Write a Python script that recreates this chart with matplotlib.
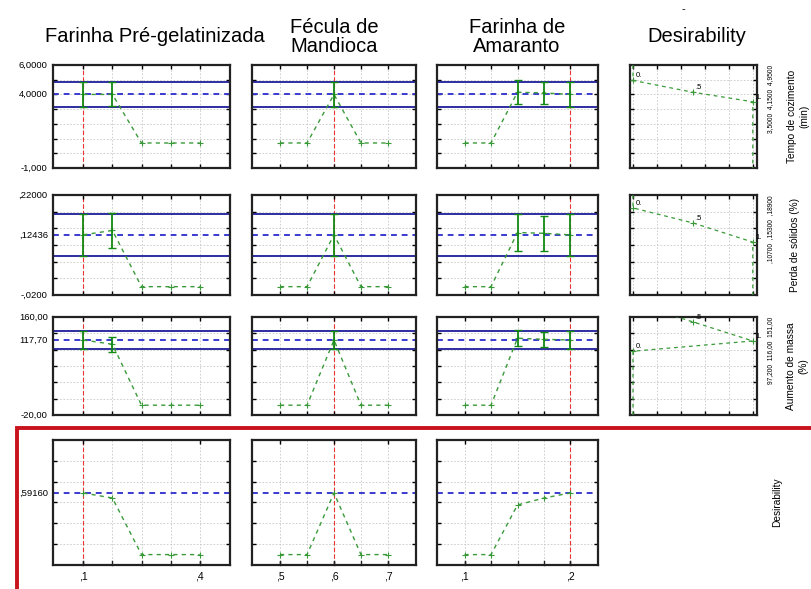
import matplotlib
matplotlib.use("Agg")
import matplotlib.pyplot as plt
from matplotlib.patches import Rectangle

plt.rcParams['font.family'] = ['Liberation Sans', 'DejaVu Sans']

W, H = 811, 589

# factor levels and current settings
levels_pg = [0.1, 0.175, 0.25, 0.325, 0.4]
levels_fm = [0.5, 0.55, 0.6, 0.65, 0.7]
levels_fa = [0.1, 0.125, 0.15, 0.175, 0.2]
current = [0.1, 0.6, 0.2]
factor_names = ["Farinha Pré-gelatinizada", "Fécula de\nMandioca", "Farinha de\nAmaranto"]
xtick_pos = [[0.1, 0.4], [0.5, 0.6, 0.7], [0.1, 0.2]]
xtick_labels = [[",1", ",4"], [",5", ",6", ",7"], [",1", ",2"]]

# response: Tempo de cozimento (min)
tempo_pred = 4.0
tempo_ci = 0.87
tempo_pg = [4.0, 4.0, 0.7, 0.7, 0.7]
tempo_pg_ci = [0.87, 0.82, 0, 0, 0]
tempo_fm = [0.7, 0.7, 4.0, 0.7, 0.7]
tempo_fm_ci = [0, 0, 0.87, 0, 0]
tempo_fa = [0.7, 0.7, 4.15, 4.1, 4.0]
tempo_fa_ci = [0, 0, 0.82, 0.73, 0.87]
tempo_desir_d = [0, 0, 0.5, 1, 1]
tempo_desir_y = [6.0, 4.95, 4.15, 3.5, -1.0]

# response: Perda de sólidos (%)
perda_pred = 0.12436
perda_ci = 0.05
perda_pg = [0.12436, 0.135, 0.0, 0.0, 0.0]
perda_pg_ci = [0.05, 0.042, 0, 0, 0]
perda_fm = [0.0, 0.0, 0.12436, 0.0, 0.0]
perda_fm_ci = [0, 0, 0.05, 0, 0]
perda_fa = [0.0, 0.0, 0.13, 0.128, 0.12436]
perda_fa_ci = [0, 0, 0.045, 0.042, 0.05]
perda_desir_d = [0, 0, 0.5, 1, 1]
perda_desir_y = [0.22, 0.189, 0.153, 0.107, -0.02]

# response: Aumento de massa (%)
massa_pred = 117.70
massa_ci = 16.5
massa_pg = [117.7, 110.0, -2.0, -2.0, -2.0]
massa_pg_ci = [16.5, 14.0, 0, 0, 0]
massa_fm = [-2.0, -2.0, 117.7, -2.0, -2.0]
massa_fm_ci = [0, 0, 16.5, 0, 0]
massa_fa = [-2.0, -2.0, 121.0, 119.0, 117.7]
massa_fa_ci = [0, 0, 15.0, 14.0, 16.5]
massa_desir_d = [0, 0, 1, 0.5, 0]
massa_desir_y = [-20.0, 97.2, 116.0, 151.0, 186.0]

# overall desirability
desir_pred = 0.5916
desir_pg = [0.5916, 0.543, 0.0, 0.0, 0.0]
desir_fm = [0.0, 0.0, 0.5916, 0.0, 0.0]
desir_fa = [0.0, 0.0, 0.476, 0.543, 0.5916]

response_names = ["Tempo de cozimento\n(min)", "Perda de sólidos (%)", "Aumento de massa\n(%)", "Desirability"]
ylims = [(-1.0, 6.0), (-0.02, 0.22), (-20.0, 160.0), (-0.1, 1.1)]
ylabels = [["-1,000", "4,0000", "6,0000"], ["-,0200", ",12436", ",22000"],
           ["-20,00", "117,70", "160,00"], [",59160"]]
ygrid_step = [1.0, 0.04, 30.0, 0.2]
desir_specs = ["3,5000  4,1500  4,9500", ",10700  ,15300  ,18900", "97,200  116,00  151,00"]

levels = [levels_pg, levels_fm, levels_fa]
profiles = [
    [(tempo_pg, tempo_pg_ci), (tempo_fm, tempo_fm_ci), (tempo_fa, tempo_fa_ci)],
    [(perda_pg, perda_pg_ci), (perda_fm, perda_fm_ci), (perda_fa, perda_fa_ci)],
    [(massa_pg, massa_pg_ci), (massa_fm, massa_fm_ci), (massa_fa, massa_fa_ci)],
    [(desir_pg, None), (desir_fm, None), (desir_fa, None)],
]
preds = [tempo_pred, perda_pred, massa_pred, desir_pred]
cis = [tempo_ci, perda_ci, massa_ci, None]
desir_curves = [(tempo_desir_d, tempo_desir_y), (perda_desir_d, perda_desir_y),
                (massa_desir_d, massa_desir_y)]

# panel edges in pixels
col_x = [(53, 230), (252, 416), (437, 598), (630, 757)]
row_y = [(65, 168), (195, 295), (317, 415), (440, 565)]
name_x = [798, 795, 797, 777]

GREEN = "#3a9a3a"
DARK_GREEN = "#138a13"
NAVY = "#1c1c9a"
BLUE = "#3a3ad0"
RED = "#ee3333"


def px_rect(l, t, r, b):
    return [l / W, 1 - b / H, (r - l) / W, (b - t) / H]


def frame(ax, ylim, step, xgrid):
    lo, hi = ylim
    ys = []
    v = lo
    while v <= hi + 1e-9:
        ys.append(v)
        v += step
    for y in ys[1:-1]:
        ax.axhline(y, color="#c8c8c8", lw=0.6, ls=(0, (2, 2)), zorder=0)
    for x in xgrid:
        ax.axvline(x, color="#c8c8c8", lw=0.6, ls=(0, (2, 2)), zorder=0)
    ax.set_xticks(xgrid)
    ax.set_yticks(ys[1:-1])
    ax.tick_params(direction="in", length=3, width=1, top=True, right=True,
                   labelleft=False, labelbottom=False)
    for s in ax.spines.values():
        s.set_linewidth(1.6)
        s.set_color("#222222")


fig = plt.figure(figsize=(W / 100, H / 100), dpi=100)

for r in range(4):
    lo, hi = ylims[r]
    for c in range(3):
        ax = fig.add_axes(px_rect(col_x[c][0], row_y[r][0], col_x[c][1], row_y[r][1]))
        lv = levels[c]
        pad = (lv[-1] - lv[0]) * 0.26
        ax.set_xlim(lv[0] - pad, lv[-1] + pad)
        ax.set_ylim(lo, hi)
        frame(ax, ylims[r], ygrid_step[r], lv)

        if cis[r] is not None:
            ax.axhline(preds[r] + cis[r], color=NAVY, lw=1.3, zorder=2)
            ax.axhline(preds[r] - cis[r], color=NAVY, lw=1.3, zorder=2)
        ax.axhline(preds[r], color=BLUE, lw=1.4, ls=(0, (3, 2.5)), zorder=2)
        ax.axvline(current[c], color=RED, lw=0.8, ls=(0, (4, 2)), zorder=1)

        vals, err = profiles[r][c]
        ax.plot(lv, vals, color=GREEN, lw=1.0, ls=(0, (3, 3)), marker="+",
                ms=4, mew=0.8, zorder=3)
        if err is not None:
            for x, v, e in zip(lv, vals, err):
                if e > 0:
                    ax.errorbar(x, v, yerr=e, color=DARK_GREEN, lw=1.3, capsize=3,
                                capthick=1.0, zorder=4)

        if r == 3:
            ax.set_xticks(xtick_pos[c])
            ax.set_xticklabels(xtick_labels[c], fontsize=7.5)
            ax.tick_params(labelbottom=True, pad=5)
            for x in lv:
                ax.plot([x, x], [lo, lo + (hi - lo) * 0.03], color="#222222", lw=1, clip_on=False)

        if c == 0:
            labs = ylabels[r]
            if r < 3:
                pos = [lo, preds[r], hi]
            else:
                pos = [preds[r]]
            for p, t in zip(pos, labs):
                ax.text(-0.03, (p - lo) / (hi - lo), t, transform=ax.transAxes,
                        ha="right", va="center", fontsize=6.8)

    # desirability function column
    if r < 3:
        ax = fig.add_axes(px_rect(col_x[3][0], row_y[r][0], col_x[3][1], row_y[r][1]))
        ax.set_xlim(-0.025, 1.035)
        ax.set_ylim(lo, hi)
        frame(ax, ylims[r], ygrid_step[r], [0, 0.2, 0.4, 0.6, 0.8, 1.0])
        dd, dy = desir_curves[r]
        ax.plot(dd, dy, color=GREEN, lw=0.9, ls=(0, (3, 3)), zorder=3)
        for d, y in zip(dd, dy):
            if lo < y < hi:
                ax.plot(d, y, marker="+", color=GREEN, ms=4, mew=0.8, zorder=4)
                lab = {0: "0.", 0.5: ".5", 1: "1."}[d]
                ax.text(d + 0.02, y + (hi - lo) * 0.03, lab, fontsize=5.5, zorder=5)
        fig.text(771 / W, 1 - row_y[r][0] / H, desir_specs[r], rotation=90,
                 ha="center", va="top", fontsize=4.8)

    fig.text(name_x[r] / W, 1 - (row_y[r][0] + row_y[r][1]) / 2 / H, response_names[r],
             rotation=90, ha="center", va="center", fontsize=7.3, linespacing=1.3)

# column titles
title_x = [155, 334, 517, 697]
for x, name in zip(title_x, factor_names + ["Desirability"]):
    fig.text(x / W, 1 - 37 / H, name, ha="center", va="center", fontsize=14.5,
             linespacing=1.05)
fig.text(683 / W, 1 - 9 / H, "-", ha="center", va="center", fontsize=8)

# frame around the desirability row
fig.patches.append(Rectangle((17 / W, -0.1), 1.2, 1.1 - 428 / H, transform=fig.transFigure,
                             fill=False, edgecolor="#c8121c", lw=2.8))

fig.savefig("out.png", dpi=100)
